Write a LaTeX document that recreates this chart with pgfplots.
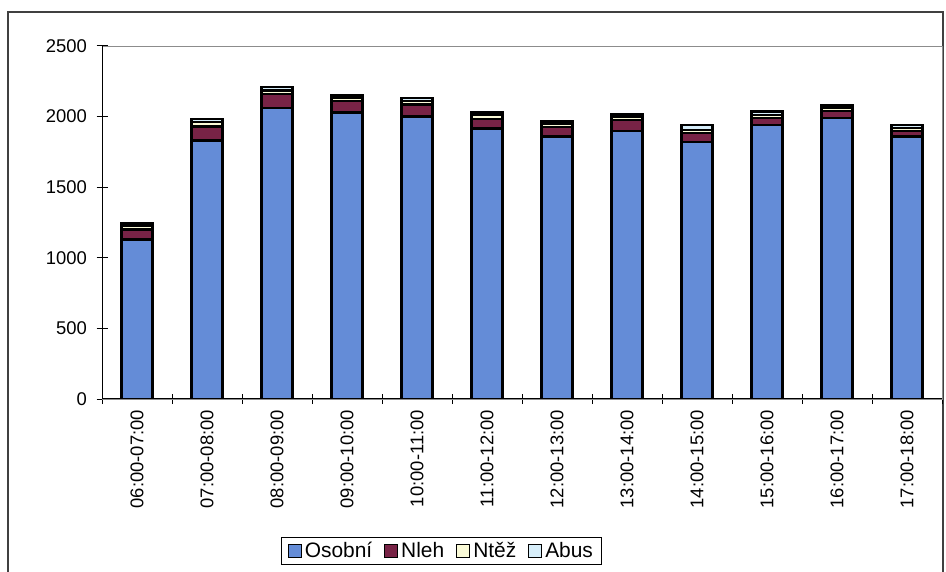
\documentclass[border=0pt]{standalone}
\usepackage{pgfplots}
\pgfplotsset{compat=1.18}
\usepackage{pgfplotstable}
\usepackage{fontspec}
\setmainfont{Liberation Sans}

\definecolor{osobni}{RGB}{100,140,215}
\definecolor{nleh}{RGB}{120,35,70}
\definecolor{ntez}{RGB}{250,250,215}
\definecolor{abus}{RGB}{215,238,250}

% hourly vehicle counts by category
\pgfplotstableread{
idx osobni nleh ntez abus
0  1130  70 30 15
1  1830 100 30 25
2  2060 100 25 25
3  2030  80 20 20
4  2000  85 25 20
5  1915  70 25 20
6  1860  65 25 20
7  1900  75 25 20
8  1820  65 20 35
9  1940  50 20 25
10 1990  50 20 20
11 1860  40 20 20
}\traffic

\begin{document}
\begin{tikzpicture}
\useasboundingbox (0,0) rectangle (946bp,572bp);
\draw[line width=1.5bp, black!75] (8bp,-5bp) rectangle (943bp,560bp);
\begin{axis}[
  at={(102bp,173bp)}, anchor=south west,
  scale only axis, width=840bp, height=353bp,
  ybar stacked, bar width=31bp,
  xmin=-0.5, xmax=11.5, ymin=0, ymax=2500,
  ytick={0,500,...,2500},
  xtick={0,...,11},
  xticklabels={06:00-07:00,07:00-08:00,08:00-09:00,09:00-10:00,10:00-11:00,11:00-12:00,12:00-13:00,13:00-14:00,14:00-15:00,15:00-16:00,16:00-17:00,17:00-18:00},
  x tick label style={rotate=90, anchor=east, xshift=-2bp},
  y tick label style={xshift=-6bp},
  xtick pos=bottom, ytick pos=left,
  major x tick style={draw=none},
  minor xtick={-0.5,0.5,...,11.5},
  tick align=center, major tick length=11bp, minor tick length=10bp,
  tick style={black, line width=1bp},
  axis line style={black!45, line width=0.8bp},
  font=\fontsize{18.5}{22}\selectfont,
  /pgf/number format/assume math mode=true,
  /pgf/number format/1000 sep={},
  legend columns=4,
  legend style={at={(0.404,-0.43)}, anchor=center, draw=black, line width=0.8bp,
    inner xsep=6bp, inner ysep=3bp, nodes={font=\fontsize{21}{24}\selectfont},
    /tikz/every odd column/.append style={column sep=1bp},
    /tikz/every even column/.append style={column sep=10bp}},
  legend image code/.code={\draw[#1, draw=black, line width=1bp] (0bp,-6.5bp) rectangle (13bp,6.5bp);},
]
\addplot[draw=black, line width=2.4bp, fill=osobni] table[x=idx, y=osobni] {\traffic};
\addplot[draw=black, line width=2.4bp, fill=nleh] table[x=idx, y=nleh] {\traffic};
\addplot[draw=black, line width=2.4bp, fill=ntez] table[x=idx, y=ntez] {\traffic};
\addplot[draw=black, line width=2.4bp, fill=abus] table[x=idx, y=abus] {\traffic};
\legend{Osobní,Nleh,Ntěž,Abus}
\draw[black, line width=1.2bp] (rel axis cs:0,1) -- (rel axis cs:0,0) -- (rel axis cs:1,0);
\end{axis}
\end{tikzpicture}
\end{document}
